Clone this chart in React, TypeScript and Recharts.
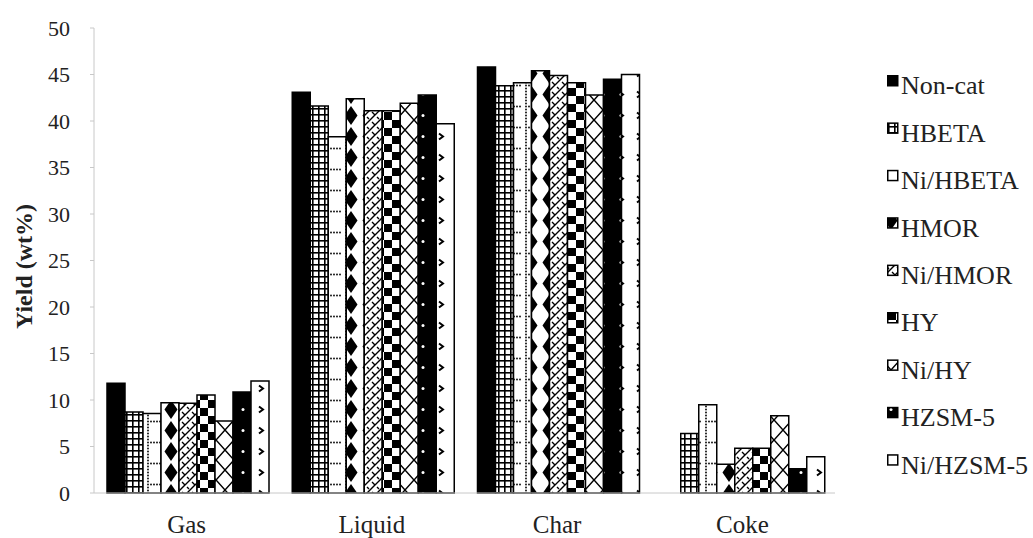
import React from 'react';
import { BarChart, Bar, XAxis, YAxis } from 'recharts';

const categories = ['Gas', 'Liquid', 'Char', 'Coke'];
const seriesNames = ['Non-cat', 'HBETA', 'Ni/HBETA', 'HMOR', 'Ni/HMOR', 'HY', 'Ni/HY', 'HZSM-5', 'Ni/HZSM-5'];
const nonCat = [11.8, 43.1, 45.8, 0];
const hbeta = [8.7, 41.6, 43.8, 6.4];
const niHbeta = [8.55, 38.3, 44.1, 9.5];
const hmor = [9.7, 42.4, 45.4, 3.1];
const niHmor = [9.65, 41.1, 44.9, 4.8];
const hy = [10.55, 41.1, 44.1, 4.8];
const niHy = [7.75, 41.9, 42.8, 8.3];
const hzsm5 = [10.85, 42.8, 44.5, 2.6];
const niHzsm5 = [12.05, 39.7, 45.0, 3.9];
const yTicks = [0, 5, 10, 15, 20, 25, 30, 35, 40, 45, 50];

const seriesValues = [nonCat, hbeta, niHbeta, hmor, niHmor, hy, niHy, hzsm5, niHzsm5];
const patternIds = ['p-solid', 'p-grid', 'p-dots', 'p-diamond', 'p-weave', 'p-checker', 'p-cross', 'p-blackdot', 'p-chevron'];

const data = categories.map((c, i) => {
  const row: Record<string, any> = { category: c };
  seriesNames.forEach((n, k) => { row[n] = seriesValues[k][i]; });
  return row;
});

const FONT = 'Liberation Serif';

const Patterns = () => (
  <defs>
    <pattern id="p-solid" patternUnits="userSpaceOnUse" width="6" height="6">
      <rect width="6" height="6" fill="#000" />
    </pattern>
    <pattern id="p-grid" patternUnits="userSpaceOnUse" width="6" height="6">
      <rect width="6" height="6" fill="#000" />
      <rect x="1.6" y="1.6" width="4.4" height="4.4" fill="#fff" />
    </pattern>
    <pattern id="p-dots" patternUnits="userSpaceOnUse" width="18" height="21">
      <rect width="18" height="21" fill="#fff" />
      {[0, 1, 2, 3, 4, 5, 6].map((k) => (
        <circle key={'v' + k} cx="4" cy={k * 3 + 1.5} r="0.9" fill="#000" />
      ))}
      {[7, 10, 13, 16].map((x) => (
        <circle key={'h' + x} cx={x} cy="1.5" r="0.9" fill="#000" />
      ))}
    </pattern>
    <pattern id="p-diamond" patternUnits="userSpaceOnUse" width="18" height="21">
      <rect width="18" height="21" fill="#fff" />
      <polygon points="9,1 15.5,10.5 9,20 2.5,10.5" fill="#000" />
    </pattern>
    <pattern id="p-weave" patternUnits="userSpaceOnUse" width="10" height="10">
      <rect width="10" height="10" fill="#fff" />
      <path d="M0,10 L10,0 M-5,5 L5,-5 M5,15 L15,5" stroke="#000" strokeWidth="1.4" />
      <path d="M2,2 L5,5 M7,7 L9,9" stroke="#000" strokeWidth="1.4" />
    </pattern>
    <pattern id="p-checker" patternUnits="userSpaceOnUse" width="16" height="16">
      <rect width="16" height="16" fill="#fff" />
      <rect width="8" height="8" fill="#000" />
      <rect x="8" y="8" width="8" height="8" fill="#000" />
    </pattern>
    <pattern id="p-cross" patternUnits="userSpaceOnUse" width="18" height="20">
      <rect width="18" height="20" fill="#fff" />
      <path d="M0,0 L18,20 M18,0 L0,20" stroke="#000" strokeWidth="1.5" />
    </pattern>
    <pattern id="p-blackdot" patternUnits="userSpaceOnUse" width="18" height="21">
      <rect width="18" height="21" fill="#000" />
      <circle cx="9" cy="10.5" r="1.5" fill="#fff" />
    </pattern>
    <pattern id="p-chevron" patternUnits="userSpaceOnUse" width="18" height="21">
      <rect width="18" height="21" fill="#fff" />
      <path d="M7,7.5 L11,10.5 L7,13.5" stroke="#000" strokeWidth="2" fill="none" />
    </pattern>
  </defs>
);

const YLabel = (props: any) => {
  const vb = props.viewBox || { x: 0, y: 28, width: 94, height: 465 };
  const cx = 24;
  const cy = vb.y + vb.height / 2 + 6;
  return (
    <text
      x={cx}
      y={cy}
      transform={`rotate(-90 ${cx} ${cy})`}
      textAnchor="middle"
      dominantBaseline="central"
      fontFamily={FONT}
      fontWeight="bold"
      fontSize={24}
      fill="#222"
    >
      Yield (wt%)
    </text>
  );
};

const LegendBox = () => (
  <svg width={1033} height={538} style={{ position: 'absolute', left: 0, top: 0, pointerEvents: 'none' }}>
    {seriesNames.map((n, i) => (
      <g key={n}>
        <rect x={887.75} y={75.75 + i * 47.4} width={10} height={10} fill={`url(#${patternIds[i]})`} stroke="#000" strokeWidth={1.5} />
        <text x={901} y={94.3 + i * 47.4} fontFamily={FONT} fontSize={26} fill="#222">{n}</text>
      </g>
    ))}
  </svg>
);

const tickStyle = { fontSize: 22, fill: '#222', fontFamily: FONT };
const xTickStyle = { fontSize: 25, fill: '#222', fontFamily: FONT };

export default function App() {
  return (
    <div style={{ position: 'absolute', left: 0, top: 0, width: 1033, height: 538, background: '#fff', fontFamily: FONT }}>
      <BarChart
        width={1033}
        height={538}
        data={data}
        margin={{ top: 28, right: 198, bottom: 0, left: 0 }}
        barGap={0}
        barCategoryGap={13}
        style={{ fontFamily: FONT }}
      >
        <Patterns />
        <XAxis
          dataKey="category"
          height={45}
          axisLine={{ stroke: '#c8c8c8' }}
          tickLine={false}
          tickSize={0}
          tickMargin={22}
          tick={xTickStyle}
        />
        <YAxis
          width={94}
          domain={[0, 50]}
          ticks={yTicks}
          interval={0}
          axisLine={{ stroke: '#c8c8c8' }}
          tickLine={{ stroke: '#c8c8c8' }}
          tickSize={4}
          tickMargin={20}
          tick={tickStyle}
          label={{ content: (p: any) => <YLabel {...p} /> }}
        />
        {seriesNames.map((n, i) => (
          <Bar
            key={n}
            dataKey={n}
            fill={`url(#${patternIds[i]})`}
            stroke="#000"
            strokeWidth={1.5}
            isAnimationActive={false}
          />
        ))}
      </BarChart>
      <LegendBox />
    </div>
  );
}
